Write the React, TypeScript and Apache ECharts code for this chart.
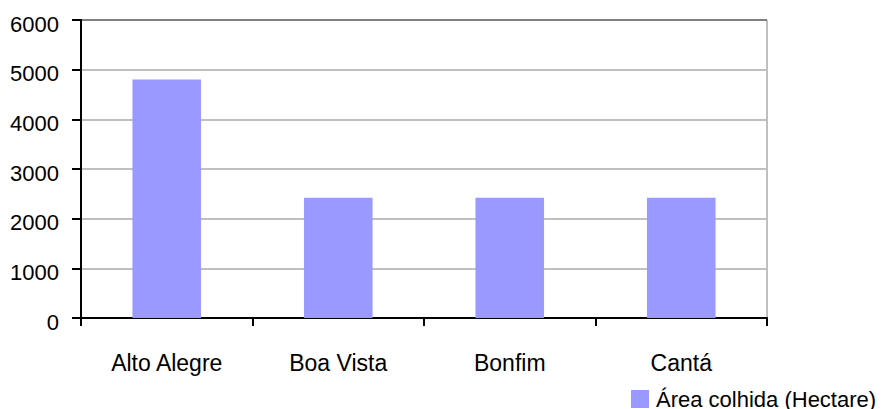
import React, { useEffect, useRef } from "react";
import * as echarts from "echarts";

const categories = ["Alto Alegre", "Boa Vista", "Bonfim", "Cantá"];
const areaColhida = [4800, 2420, 2420, 2420];
const seriesName = "Área colhida (Hectare)";
const yMin = 0;
const yMax = 6000;
const yStep = 1000;

const FONT = "'Liberation Sans', Arial, sans-serif";

export default function App() {
  const ref = useRef<HTMLDivElement>(null);

  useEffect(() => {
    if (!ref.current) return;
    const chart = echarts.init(ref.current, null, { renderer: "svg" });
    chart.setOption({
      animation: false,
      backgroundColor: "#ffffff",
      textStyle: { fontFamily: FONT },
      grid: {
        left: 81,
        top: 20,
        width: 686,
        height: 298,
        show: true,
        borderColor: "#808080",
        borderWidth: 1,
        backgroundColor: "transparent",
      },
      legend: {
        show: true,
        left: 631,
        top: 388,
        itemWidth: 18,
        itemHeight: 18,
        itemGap: 10,
        icon: "rect",
        padding: 0,
        textStyle: { fontSize: 22, color: "#000", fontFamily: FONT, padding: [0, 0, 0, 2] },
        data: [seriesName],
      },
      xAxis: {
        type: "category",
        data: categories,
        boundaryGap: true,
        axisLine: { show: true, lineStyle: { color: "#000", width: 2 } },
        axisTick: { show: true, length: 8, lineStyle: { color: "#000", width: 2 }, alignWithLabel: false },
        axisLabel: { fontSize: 23, color: "#000", fontFamily: FONT, margin: 33, interval: 0 },
        splitLine: { show: false },
      },
      yAxis: {
        type: "value",
        min: yMin,
        max: yMax,
        interval: yStep,
        axisLine: { show: true, lineStyle: { color: "#000", width: 2 } },
        axisTick: { show: true, length: 9, lineStyle: { color: "#000", width: 2 } },
        axisLabel: {
          color: "#000",
          fontFamily: FONT,
          margin: 22,
          verticalAlign: "middle",
          formatter: (v: number) => "{n|" + v + "}",
          rich: {
            n: {
              fontSize: 22,
              color: "#000",
              fontFamily: FONT,
              padding: [8, 0, 0, 0],
            },
          },
        },
        splitLine: {
          show: true,
          lineStyle: {
            color: ["#c0c0c0", "#c0c0c0", "#c0c0c0", "#c0c0c0", "#c0c0c0", "#c0c0c0", "#808080"],
            width: 2,
          },
        },
      },
      series: [
        {
          name: seriesName,
          type: "bar",
          data: areaColhida,
          barWidth: "40%",
          itemStyle: { color: "#9999ff" },
        },
      ],
    });
    return () => chart.dispose();
  }, []);

  return (
    <div
      ref={ref}
      style={{ position: "fixed", left: 0, top: 0, width: 887, height: 409 }}
    />
  );
}
